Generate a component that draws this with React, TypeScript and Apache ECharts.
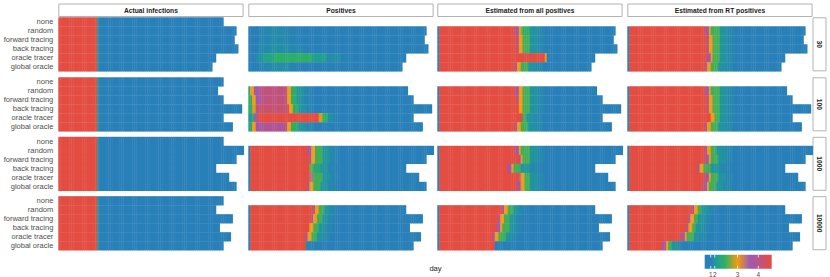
import React, { useEffect, useRef } from 'react';
import * as echarts from 'echarts';

const COLUMNS = ['Actual infections', 'Positives', 'Estimated from all positives', 'Estimated from RT positives'];
const SIZES = ['30', '100', '1000', '10000'];
const STRATEGIES = ['none', 'random', 'forward tracing', 'back tracing', 'oracle tracer', 'global oracle'];
const N_DAYS = 100;
const DAYS = Array.from({ length: N_DAYS }, (_, i) => String(i));
const LEGEND_TICKS = [1, 2, 3, 4];
const NA = -1;

// number of simulated days per strategy (none..global oracle), per size
const len30 = [89, 96, 95, 97, 85, 83];
const len100 = [89, 86, 89, 99, 89, 94];
const len1000 = [89, 100, 96, 85, 92, 96];
const len10000 = [89, 85, 94, 87, 93, 89];

// segments: [value, endDay(exclusive)], last segment runs to row end
const actual = [[4.6, 21], [2.0, 22], [1.0]];

const positives30 = [
  null,
  [[1, 6], [1.4, 12], [1.6, 20], [1.3, 26], [1]],
  [[1, 6], [1.4, 12], [1.6, 20], [1.3, 26], [1]],
  [[1, 5], [1.5, 12], [1.8, 22], [1.5, 30], [1.2, 36], [1]],
  [[1.2, 4], [1.8, 8], [2.2, 14], [2.4, 34], [2.1, 42], [1.7, 50], [1.3, 56], [1]],
  [[1, 6], [1.4, 12], [1.7, 22], [1.3, 28], [1]],
];
const positives100 = [
  null,
  [[2.2, 1], [3.0, 3], [3.6, 6], [4.1, 21], [3.0, 23], [2.4, 26], [2.0, 30], [1.5, 34], [1]],
  [[2.4, 2], [3.0, 4], [3.7, 7], [4.1, 21], [3.0, 23], [2.4, 26], [1.9, 30], [1.4, 34], [1]],
  [[2.3, 2], [2.9, 4], [4.2, 22], [3.0, 24], [2.4, 27], [1.9, 31], [1.4, 35], [1]],
  [[2.0, 2], [2.5, 3], [3.6, 5], [4.6, 38], [2.9, 40], [2.4, 43], [1.8, 46], [1.3, 49], [1]],
  [[2.2, 2], [3.0, 4], [3.7, 7], [3.9, 21], [3.0, 23], [2.4, 27], [1.9, 31], [1.4, 35], [1]],
];
const positives1000 = [
  null,
  [[1, 1], [4.6, 32], [3.7, 34], [3.0, 36], [2.5, 40], [2.0, 44], [1.5, 48], [1]],
  [[1, 1], [4.6, 33], [3.7, 34], [3.0, 36], [2.5, 40], [2.0, 44], [1.5, 48], [1]],
  [[1, 1], [4.6, 33], [2.6, 35], [2.3, 39], [1.9, 43], [1.4, 47], [1]],
  [[1, 1], [4.6, 33], [3.4, 35], [2.5, 40], [2.0, 44], [1.5, 48], [1]],
  [[1, 1], [4.6, 32], [3.7, 33], [3.0, 35], [2.5, 39], [2.0, 43], [1.5, 47], [1]],
];
const positives10000 = [
  null,
  [[1, 1], [4.6, 35], [3.7, 36], [3.0, 38], [2.5, 41], [2.0, 44], [1.5, 47], [1]],
  [[1, 1], [4.6, 34], [3.7, 35], [3.0, 37], [2.5, 40], [2.0, 43], [1.5, 46], [1]],
  [[1, 1], [4.6, 33], [3.0, 35], [2.5, 38], [2.0, 41], [1.5, 45], [1]],
  [[1, 1], [4.6, 31], [3.7, 32], [3.0, 34], [2.5, 37], [2.0, 40], [1.5, 44], [1]],
  [[1, 1], [4.6, 31], [1.8, 32], [1]],
];

const estAll30 = [
  null,
  [[NA, 1], [4.6, 42], [3.7, 44], [3.0, 45], [2.7, 46], [2.4, 50], [2.0, 54], [1.5, 58], [1]],
  [[NA, 1], [4.6, 43], [3.7, 44], [3.0, 46], [2.5, 50], [2.0, 54], [1.5, 58], [1]],
  [[NA, 1], [4.6, 43], [3.7, 44], [3.0, 46], [2.5, 50], [2.0, 54], [1.5, 58], [1]],
  [[NA, 1], [4.6, 58], [3.0, 59], [1]],
  [[NA, 1], [4.6, 42], [3.7, 43], [3.0, 45], [2.5, 49], [2.0, 53], [1.5, 57], [1]],
];
const estAll100 = [
  null,
  [[NA, 1], [4.6, 42], [3.8, 44], [3.0, 46], [2.5, 50], [2.0, 54], [1.5, 58], [1]],
  [[NA, 1], [4.6, 43], [3.7, 44], [3.0, 46], [2.5, 50], [2.0, 54], [1.5, 58], [1]],
  [[NA, 1], [4.6, 44], [3.0, 46], [2.5, 50], [2.0, 54], [1.5, 58], [1]],
  [[NA, 1], [4.6, 46], [2.5, 48], [2.0, 52], [1.5, 56], [1]],
  [[NA, 1], [4.6, 42], [3.7, 43], [3.0, 45], [2.5, 49], [2.0, 53], [1.5, 57], [1]],
];
const estAll1000 = [
  null,
  [[NA, 1], [4.6, 42], [3.7, 44], [3.0, 45], [2.5, 50], [2.0, 54], [1.5, 58], [1]],
  [[NA, 1], [4.6, 44], [3.7, 45], [3.0, 46], [2.5, 50], [2.0, 54], [1.5, 58], [1]],
  [[NA, 1], [4.6, 38], [3.7, 40], [3.0, 41], [2.5, 45], [2.0, 50], [1.5, 55], [1]],
  [[NA, 1], [4.6, 44], [3.5, 45], [3.0, 47], [2.5, 50], [2.0, 54], [1.5, 58], [1]],
  [[NA, 1], [4.6, 43], [3.7, 45], [3.0, 47], [2.5, 50], [2.0, 54], [1.5, 58], [1]],
];
const estAll10000 = [
  null,
  [[NA, 1], [4.6, 35], [3.7, 36], [3.0, 38], [2.5, 41], [2.0, 44], [1.5, 47], [1]],
  [[NA, 1], [4.6, 33], [3.7, 34], [3.0, 36], [2.5, 39], [2.0, 42], [1.5, 46], [1]],
  [[NA, 1], [4.6, 32], [3.7, 34], [3.0, 35], [2.5, 39], [2.0, 42], [1.5, 46], [1]],
  [[NA, 1], [4.6, 30], [3.7, 31], [3.0, 33], [2.5, 37], [2.0, 40], [1.5, 44], [1]],
  [[NA, 1], [4.6, 31], [1]],
];

const estRT30 = [
  null,
  [[NA, 1], [4.6, 42], [3.7, 44], [3.0, 45], [2.5, 50], [2.0, 54], [1.5, 58], [1]],
  [[NA, 1], [4.6, 43], [3.7, 44], [3.0, 46], [2.5, 50], [2.0, 54], [1.5, 58], [1]],
  [[NA, 1], [4.6, 43], [3.7, 44], [3.0, 46], [2.5, 50], [2.0, 54], [1.5, 58], [1]],
  [[NA, 1], [4.6, 43], [3.7, 45], [3.0, 46], [2.5, 50], [2.0, 54], [1.5, 58], [1]],
  [[NA, 1], [4.6, 42], [3.7, 43], [3.0, 45], [2.5, 49], [2.0, 53], [1.5, 57], [1]],
];
const estRT100 = [
  null,
  [[NA, 1], [4.6, 42], [3.7, 44], [3.0, 45], [2.5, 50], [2.0, 54], [1.5, 58], [1]],
  [[NA, 1], [4.6, 43], [3.7, 44], [3.0, 46], [2.5, 50], [2.0, 54], [1.5, 58], [1]],
  [[NA, 1], [4.6, 43], [3.7, 44], [3.0, 46], [2.5, 50], [2.0, 54], [1.5, 58], [1]],
  [[NA, 1], [4.6, 45], [3.0, 47], [2.5, 50], [2.0, 54], [1.5, 58], [1]],
  [[NA, 1], [4.6, 42], [3.7, 43], [3.0, 45], [2.5, 49], [2.0, 53], [1.5, 57], [1]],
];
const estRT1000 = [
  null,
  [[NA, 1], [4.6, 42], [3.7, 43], [3.0, 45], [2.5, 48], [2.0, 53], [1.5, 57], [1]],
  [[NA, 1], [4.6, 42], [3.7, 44], [3.0, 45], [2.5, 49], [2.0, 53], [1.5, 57], [1]],
  [[NA, 1], [4.6, 38], [3.7, 39], [3.0, 41], [2.5, 45], [2.0, 50], [1.5, 55], [1]],
  [[NA, 1], [4.6, 42], [3.7, 44], [3.0, 45], [2.5, 49], [2.0, 53], [1.5, 57], [1]],
  [[NA, 1], [4.6, 41], [3.7, 43], [3.0, 44], [2.5, 48], [2.0, 52], [1.5, 56], [1]],
];
const estRT10000 = [
  null,
  [[NA, 1], [4.6, 35], [3.7, 36], [3.0, 38], [2.5, 40], [2.0, 44], [1.5, 47], [1]],
  [[NA, 1], [4.6, 33], [3.7, 34], [3.0, 36], [2.5, 38], [2.0, 42], [1.5, 45], [1]],
  [[NA, 1], [4.6, 32], [3.7, 33], [3.0, 35], [2.5, 37], [2.0, 41], [1.5, 44], [1]],
  [[NA, 1], [4.6, 29], [3.7, 31], [3.0, 32], [2.5, 36], [2.0, 39], [1.5, 43], [1]],
  [[NA, 1], [4.6, 19], [3.7, 21], [3.0, 22], [2.5, 24], [2.0, 27], [1.5, 30], [1]],
];

// ---- layout / style ----
const FONT = "'Liberation Sans', Arial, sans-serif";
const COL_LEFT = [58.3, 248.3, 437.3, 627.3];
const PANEL_W = 185.3;
const ROW_TOP = [17.3, 77.3, 136.8, 196.2];
const PANEL_H = 54;
const LEG_X = 704.7, LEG_Y = 254.7, LEG_W = 67, LEG_H = 14;

// legend scale (value -> position along colour bar)
const SCALE_V = [0, 1, 2, 3, 4, 4.65];
const SCALE_P = [0, 0.09, 0.15, 0.49, 0.8, 1];
const COLOR_STOPS: [number, string][] = [
  [0, '#2980b9'], [0.1, '#2980b9'], [0.17, '#1f9c94'], [0.3, '#2eb062'],
  [0.49, '#f39c12'], [0.68, '#9b59b6'], [1, '#e74c3c'],
];

function toScale(v: number): number {
  if (v < 0) return -1;
  for (let i = 1; i < SCALE_V.length; i++) {
    if (v <= SCALE_V[i]) {
      const f = (v - SCALE_V[i - 1]) / (SCALE_V[i] - SCALE_V[i - 1]);
      return SCALE_P[i - 1] + f * (SCALE_P[i] - SCALE_P[i - 1]);
    }
  }
  return 1;
}
function hex(h: string) {
  return [parseInt(h.slice(1, 3), 16), parseInt(h.slice(3, 5), 16), parseInt(h.slice(5, 7), 16)];
}
function colorAt(t: number) {
  for (let i = 1; i < COLOR_STOPS.length; i++) {
    if (t <= COLOR_STOPS[i][0]) {
      const [o0, c0] = COLOR_STOPS[i - 1];
      const [o1, c1] = COLOR_STOPS[i];
      const f = o1 === o0 ? 0 : (t - o0) / (o1 - o0);
      const a = hex(c0), b = hex(c1);
      const r = a.map((x, k) => Math.round(x + (b[k] - x) * f));
      return `rgb(${r[0]},${r[1]},${r[2]})`;
    }
  }
  return COLOR_STOPS[COLOR_STOPS.length - 1][1];
}
const PALETTE = Array.from({ length: 101 }, (_, i) => colorAt(i / 100));

function expand(segs: number[][], len: number): number[] {
  const out: number[] = [];
  let k = 0;
  for (let d = 0; d < len; d++) {
    while (k < segs.length - 1 && d >= segs[k][1]) k++;
    out.push(segs[k][0]);
  }
  return out;
}

const LENGTHS = [len30, len100, len1000, len10000];
const TABLE: any[][] = [
  [null, null, null, null],
  [positives30, positives100, positives1000, positives10000],
  [estAll30, estAll100, estAll1000, estAll10000],
  [estRT30, estRT100, estRT1000, estRT10000],
];

function renderTile(params: any, api: any) {
  const p = api.coord([api.value(0), api.value(1)]);
  const s = api.size([1, 1]);
  return {
    type: 'rect',
    shape: { x: p[0] - s[0] / 2, y: p[1] - s[1] / 2, width: s[0] + 0.45, height: s[1] + 0.25 },
    style: { fill: api.visual('color') },
  };
}

function buildOption() {
  const grid: any[] = [], xAxis: any[] = [], yAxis: any[] = [], series: any[] = [];
  const graphic: any[] = [];
  SIZES.forEach((size, r) => {
    COLUMNS.forEach((col, c) => {
      const gi = r * 4 + c;
      grid.push({ left: COL_LEFT[c], top: ROW_TOP[r], width: PANEL_W, height: PANEL_H });
      xAxis.push({ type: 'category', gridIndex: gi, data: DAYS, show: false });
      yAxis.push({
        type: 'category', gridIndex: gi, data: STRATEGIES, inverse: true,
        axisLine: { show: false }, axisTick: { show: false }, splitLine: { show: false },
        axisLabel: { show: c === 0, interval: 0, fontSize: 7.5, color: '#4d4d4d', margin: 5, fontFamily: FONT },
      });
      const data: number[][] = [];
      STRATEGIES.forEach((s, si) => {
        const segs = c === 0 ? actual : TABLE[c][r][si];
        if (!segs) return;
        expand(segs, LENGTHS[r][si]).forEach((v, d) => data.push([d, si, toScale(v)]));
      });
      series.push({
        type: 'custom', xAxisIndex: gi, yAxisIndex: gi, data,
        renderItem: renderTile, encode: { x: 0, y: 1 },
        progressive: 0, silent: true, clip: false,
      });
    });
  });
  // top strips
  COLUMNS.forEach((col, c) => {
    graphic.push({
      type: 'rect', shape: { x: COL_LEFT[c] + 0.5, y: 4, width: PANEL_W - 1, height: 12.5 },
      style: { fill: '#ffffff', stroke: '#b3b3b3', lineWidth: 1 }, silent: true,
    });
    graphic.push({
      type: 'text', x: COL_LEFT[c] + PANEL_W / 2, y: 10.5,
      style: { text: col, fontSize: 6.7, fontWeight: 'bold', fill: '#1a1a1a', fontFamily: FONT, align: 'center', verticalAlign: 'middle' },
      silent: true,
    });
  });
  // right strips
  SIZES.forEach((size, r) => {
    graphic.push({
      type: 'rect', shape: { x: 813, y: ROW_TOP[r] + 0.5, width: 13, height: PANEL_H - 1 },
      style: { fill: '#ffffff', stroke: '#b3b3b3', lineWidth: 1 }, silent: true,
    });
    graphic.push({
      type: 'text', x: 819.5, y: ROW_TOP[r] + PANEL_H / 2, rotation: -Math.PI / 2,
      style: { text: size, fontSize: 6.7, fontWeight: 'bold', fill: '#1a1a1a', fontFamily: FONT, align: 'center', verticalAlign: 'middle' },
      silent: true,
    });
  });
  // x axis title
  graphic.push({
    type: 'text', x: 435.5, y: 268.5,
    style: { text: 'day', fontSize: 7.6, fill: '#222222', fontFamily: FONT, align: 'center', verticalAlign: 'middle' },
    silent: true,
  });
  // colour bar legend
  graphic.push({
    type: 'rect', shape: { x: LEG_X, y: LEG_Y, width: LEG_W, height: LEG_H },
    style: {
      fill: {
        type: 'linear', x: 0, y: 0, x2: 1, y2: 0,
        colorStops: COLOR_STOPS.map(([o, c]) => ({ offset: o, color: c })),
      },
    },
    silent: true,
  });
  LEGEND_TICKS.forEach((t) => {
    const x = LEG_X + toScale(t) * LEG_W;
    graphic.push({ type: 'line', shape: { x1: x, y1: LEG_Y, x2: x, y2: LEG_Y + 2.8 }, style: { stroke: '#ffffff', lineWidth: 0.8 }, silent: true });
    graphic.push({ type: 'line', shape: { x1: x, y1: LEG_Y + LEG_H - 2.8, x2: x, y2: LEG_Y + LEG_H }, style: { stroke: '#ffffff', lineWidth: 0.8 }, silent: true });
    graphic.push({
      type: 'text', x, y: 274.3,
      style: { text: String(t), fontSize: 6.5, fill: '#4d4d4d', fontFamily: FONT, align: 'center', verticalAlign: 'middle' },
      silent: true,
    });
  });

  return {
    animation: false,
    backgroundColor: '#ffffff',
    grid, xAxis, yAxis, series, graphic,
    visualMap: {
      type: 'continuous', show: false, min: 0, max: 1, dimension: 2,
      seriesIndex: series.map((_, i) => i),
      inRange: { color: PALETTE },
      outOfRange: { color: '#7f7f7f' },
    },
  };
}

export default function App() {
  const ref = useRef<HTMLDivElement>(null);
  useEffect(() => {
    if (!ref.current) return;
    const chart = echarts.init(ref.current, null, { renderer: 'svg' });
    chart.setOption(buildOption() as any);
    return () => chart.dispose();
  }, []);
  return <div ref={ref} style={{ position: 'fixed', left: 0, top: 0, width: 830, height: 277 }} />;
}
